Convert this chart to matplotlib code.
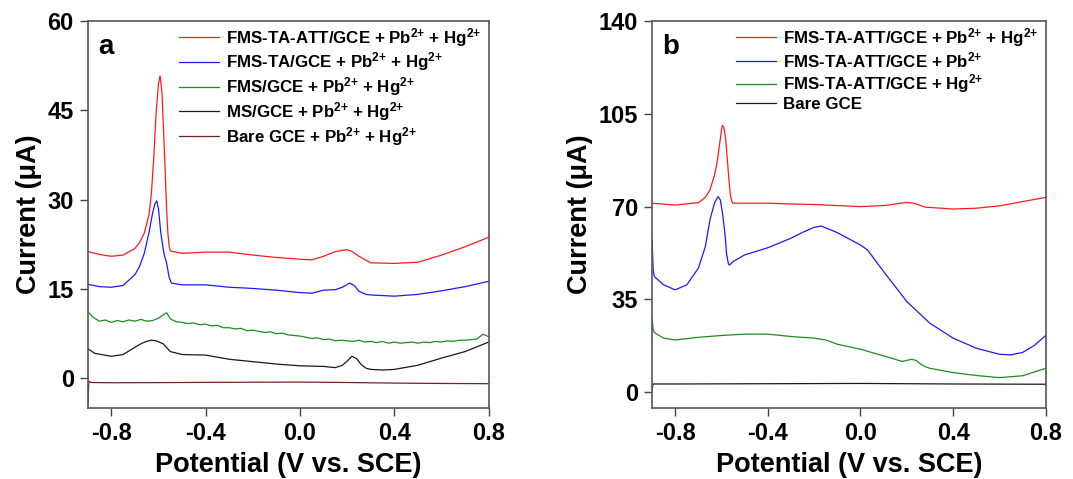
import numpy as np
import matplotlib
matplotlib.use('Agg')
import matplotlib.pyplot as plt

# ==============================
# fonts
# ==============================
plt.rcParams['font.family'] = ['Liberation Sans', 'DejaVu Sans']
plt.rcParams['font.weight'] = 'bold'
plt.rcParams['mathtext.fontset'] = 'custom'
plt.rcParams['mathtext.rm'] = 'Liberation Sans:bold'
plt.rcParams['mathtext.bf'] = 'Liberation Sans:bold'
plt.rcParams['mathtext.default'] = 'bf'

# ==============================
# panel a data (potential V, current uA)
# ==============================
x_a_red = [-0.9, -0.85, -0.8, -0.75, -0.7, -0.68, -0.66, -0.64, -0.63, -0.62, -0.61, -0.6, -0.593,
           -0.585, -0.575, -0.565, -0.56, -0.555, -0.55, -0.5, -0.4, -0.3, -0.2, -0.1, 0.0, 0.05,
           0.1, 0.15, 0.2, 0.22, 0.25, 0.3, 0.4, 0.5, 0.6, 0.7, 0.8]
y_a_red = [21.3, 20.8, 20.5, 20.7, 21.8, 22.8, 24.4, 27.5, 31.0, 37.0, 44.5, 49.5, 50.8,
           48.0, 38.4, 28.0, 24.4, 22.3, 21.4, 21.0, 21.2, 21.2, 20.7, 20.3, 20.0, 19.9,
           20.5, 21.3, 21.6, 21.3, 20.5, 19.4, 19.3, 19.5, 20.7, 22.1, 23.7]

x_a_blue = [-0.9, -0.85, -0.8, -0.75, -0.7, -0.68, -0.66, -0.64, -0.625, -0.615, -0.607, -0.6,
            -0.59, -0.58, -0.575, -0.565, -0.555, -0.545, -0.5, -0.4, -0.3, -0.2, -0.1, 0.0, 0.05,
            0.1, 0.15, 0.18, 0.21, 0.23, 0.25, 0.28, 0.3, 0.4, 0.5, 0.6, 0.7, 0.8]
y_a_blue = [15.8, 15.4, 15.3, 15.6, 17.4, 18.8, 21.0, 24.5, 27.7, 29.3, 29.8, 28.5,
            24.4, 21.8, 20.7, 19.3, 17.0, 16.0, 15.7, 15.7, 15.3, 15.1, 14.8, 14.4, 14.3,
            14.8, 14.9, 15.3, 16.0, 15.6, 14.6, 14.1, 14.0, 13.8, 14.1, 14.7, 15.4, 16.3]

x_a_green = [-0.9, -0.875, -0.85, -0.825, -0.8, -0.775, -0.75, -0.725, -0.7, -0.675, -0.65,
             -0.625, -0.6, -0.575, -0.565, -0.55, -0.525, -0.5, -0.475, -0.45, -0.425, -0.4,
             -0.375, -0.35, -0.325, -0.3, -0.275, -0.25, -0.225, -0.2, -0.175, -0.15, -0.125,
             -0.1, -0.075, -0.05, -0.025, 0.0, 0.025, 0.05, 0.075, 0.1, 0.125, 0.15, 0.175,
             0.2, 0.225, 0.25, 0.275, 0.3, 0.325, 0.35, 0.375, 0.4, 0.425, 0.45, 0.475, 0.5,
             0.525, 0.55, 0.575, 0.6, 0.625, 0.65, 0.675, 0.7, 0.725, 0.75, 0.775, 0.8]
y_a_green = [11.2, 10.2, 9.6, 9.8, 9.4, 9.7, 9.5, 9.8, 9.6, 9.9, 9.6,
             9.7, 10.1, 10.8, 11.0, 10.0, 9.5, 9.4, 9.2, 9.3, 9.0, 9.1,
             8.8, 8.9, 8.5, 8.5, 8.3, 8.4, 8.0, 8.1, 7.9, 7.7, 7.8,
             7.5, 7.6, 7.3, 7.2, 7.1, 6.9, 6.7, 6.8, 6.5, 6.6, 6.3, 6.4,
             6.3, 6.2, 6.4, 6.1, 6.2, 6.0, 6.2, 5.9, 6.1, 5.9, 6.0, 6.1, 5.9,
             6.1, 6.0, 6.2, 6.1, 6.3, 6.2, 6.4, 6.4, 6.5, 6.6, 7.4, 7.0]

x_a_black = [-0.9, -0.87, -0.8, -0.75, -0.7, -0.67, -0.65, -0.63, -0.61, -0.58, -0.55, -0.5,
             -0.4, -0.3, -0.2, -0.1, 0.0, 0.1, 0.15, 0.18, 0.2, 0.22, 0.24, 0.26, 0.28, 0.3,
             0.35, 0.4, 0.5, 0.6, 0.7, 0.8]
y_a_black = [5.0, 4.2, 3.7, 4.0, 5.2, 5.9, 6.2, 6.4, 6.3, 5.8, 4.5, 4.0,
             3.9, 3.2, 2.8, 2.4, 2.1, 2.0, 1.8, 2.2, 2.9, 3.7, 3.3, 2.3, 1.7, 1.5,
             1.4, 1.5, 2.2, 3.4, 4.5, 6.1]

x_a_bare = [-0.9, -0.895, -0.885, -0.8, -0.6, -0.4, -0.2, 0.0, 0.2, 0.4, 0.6, 0.8]
y_a_bare = [-5.0, -0.5, -0.7, -0.74, -0.72, -0.68, -0.65, -0.63, -0.7, -0.8, -0.86, -0.9]

# ==============================
# panel b data
# ==============================
x_b_red = [-0.9, -0.8, -0.7, -0.67, -0.65, -0.63, -0.62, -0.61, -0.6, -0.596, -0.59, -0.583,
           -0.576, -0.568, -0.562, -0.555, -0.55, -0.4, -0.3, -0.2, -0.1, 0.0, 0.1, 0.15, 0.2,
           0.23, 0.28, 0.4, 0.5, 0.6, 0.7, 0.8]
y_b_red = [71.3, 70.6, 71.5, 73.5, 76.3, 82.0, 86.3, 92.5, 99.0, 100.7, 99.8, 96.0,
           88.9, 80.0, 74.5, 71.8, 71.3, 71.3, 71.0, 70.8, 70.4, 70.0, 70.4, 71.0, 71.6,
           71.3, 69.8, 69.1, 69.4, 70.3, 71.9, 73.5]

x_b_blue = [-0.9, -0.895, -0.89, -0.85, -0.8, -0.75, -0.7, -0.67, -0.65, -0.63, -0.615,
            -0.605, -0.595, -0.585, -0.578, -0.57, -0.565, -0.55, -0.5, -0.4, -0.3, -0.25,
            -0.2, -0.17, -0.1, 0.0, 0.03, 0.1, 0.2, 0.3, 0.4, 0.5, 0.6, 0.65, 0.7, 0.75, 0.8]
y_b_blue = [57.4, 46.0, 43.6, 40.5, 38.6, 40.5, 46.8, 54.9, 65.0, 71.5, 73.8,
            72.5, 67.0, 59.5, 52.0, 48.3, 48.0, 49.3, 51.8, 54.5, 58.1, 60.3,
            62.2, 62.7, 60.2, 55.5, 53.7, 45.5, 34.2, 26.0, 20.4, 16.6, 14.3, 14.1, 15.0, 17.6, 21.4]

x_b_green = [-0.9, -0.895, -0.89, -0.85, -0.8, -0.7, -0.6, -0.5, -0.4, -0.3, -0.2, -0.15,
             -0.1, 0.0, 0.1, 0.18, 0.2, 0.22, 0.24, 0.26, 0.28, 0.3, 0.4, 0.5, 0.6, 0.7, 0.8]
y_b_green = [27.9, 23.5, 22.5, 20.4, 19.7, 20.7, 21.4, 21.9, 21.9, 21.0, 20.4, 19.7,
             18.1, 16.2, 13.7, 11.6, 12.0, 12.4, 12.0, 10.6, 9.6, 9.0, 7.4, 6.3, 5.5, 6.2, 9.0]

x_b_bare = [-0.9, -0.895, -0.8, -0.4, 0.0, 0.4, 0.8]
y_b_bare = [1.5, 3.1, 3.1, 3.2, 3.3, 3.1, 3.0]

PB = r'$\text{Pb}^{\text{2+}}$'
HG = r'$\text{Hg}^{\text{2+}}$'
labels_a = ['FMS-TA-ATT/GCE + ' + PB + ' + ' + HG,
            'FMS-TA/GCE + ' + PB + ' + ' + HG,
            'FMS/GCE + ' + PB + ' + ' + HG,
            'MS/GCE + ' + PB + ' + ' + HG,
            'Bare GCE + ' + PB + ' + ' + HG]
labels_b = ['FMS-TA-ATT/GCE + ' + PB + ' + ' + HG,
            'FMS-TA-ATT/GCE + ' + PB,
            'FMS-TA-ATT/GCE + ' + HG,
            'Bare GCE']

x_ticks = [-0.8, -0.4, 0.0, 0.4, 0.8]
y_ticks_a = [0, 15, 30, 45, 60]
y_ticks_b = [0, 35, 70, 105, 140]

c_red, c_blue, c_green, c_black, c_bare = '#FF1A1A', '#1A1AFF', '#1E8C1E', '#1A1A1A', '#7A1F1F'
lw = 0.9

fig = plt.figure(figsize=(10.73, 4.79), dpi=100)
ax_a = fig.add_axes([0.0817, 0.148, 0.3738, 0.808])
ax_b = fig.add_axes([0.6077, 0.148, 0.3669, 0.808])

ax_a.plot(x_a_red, y_a_red, color=c_red, lw=lw, label=labels_a[0])
ax_a.plot(x_a_blue, y_a_blue, color=c_blue, lw=lw, label=labels_a[1])
ax_a.plot(x_a_green, y_a_green, color=c_green, lw=lw, label=labels_a[2])
ax_a.plot(x_a_black, y_a_black, color=c_black, lw=lw, label=labels_a[3])
ax_a.plot(x_a_bare, y_a_bare, color=c_bare, lw=lw, label=labels_a[4])

ax_b.plot(x_b_red, y_b_red, color=c_red, lw=lw, label=labels_b[0])
ax_b.plot(x_b_blue, y_b_blue, color=c_blue, lw=lw, label=labels_b[1])
ax_b.plot(x_b_green, y_b_green, color=c_green, lw=lw, label=labels_b[2])
ax_b.plot(x_b_bare, y_b_bare, color=c_black, lw=lw, label=labels_b[3])


def style_axes(ax, yticks, ylim, letter):
    ax.set_xlim(-0.9, 0.8)
    ax.set_ylim(*ylim)
    ax.set_xticks(x_ticks)
    ax.set_xticklabels(['%.1f' % v for v in x_ticks])
    ax.set_yticks(yticks)
    ax.tick_params(direction='out', length=6, width=1, color='#444444',
                   labelsize=17, pad=4, top=False, right=False)
    for lab in ax.get_xticklabels() + ax.get_yticklabels():
        lab.set_fontweight('bold')
    for sp in ax.spines.values():
        sp.set_color('#555555')
        sp.set_linewidth(1.2)
    ax.set_xlabel('Potential (V vs. SCE)', fontsize=19.5, fontweight='bold', labelpad=5)
    ax.set_ylabel('Current (\u03bcA)', fontsize=19.5, fontweight='bold')
    ax.text(0.026, 0.915, letter, transform=ax.transAxes, fontsize=20,
            fontweight='bold', ha='left', va='baseline')
    ax.legend(loc='upper right', bbox_to_anchor=(1.003, 1.01), frameon=False,
              fontsize=12.2, handlelength=2.35, handletextpad=0.42,
              labelspacing=0.11, borderaxespad=0.1)


style_axes(ax_a, y_ticks_a, (-5, 60), 'a')
style_axes(ax_b, y_ticks_b, (-6, 140), 'b')

plt.savefig('out.png', dpi=100)
